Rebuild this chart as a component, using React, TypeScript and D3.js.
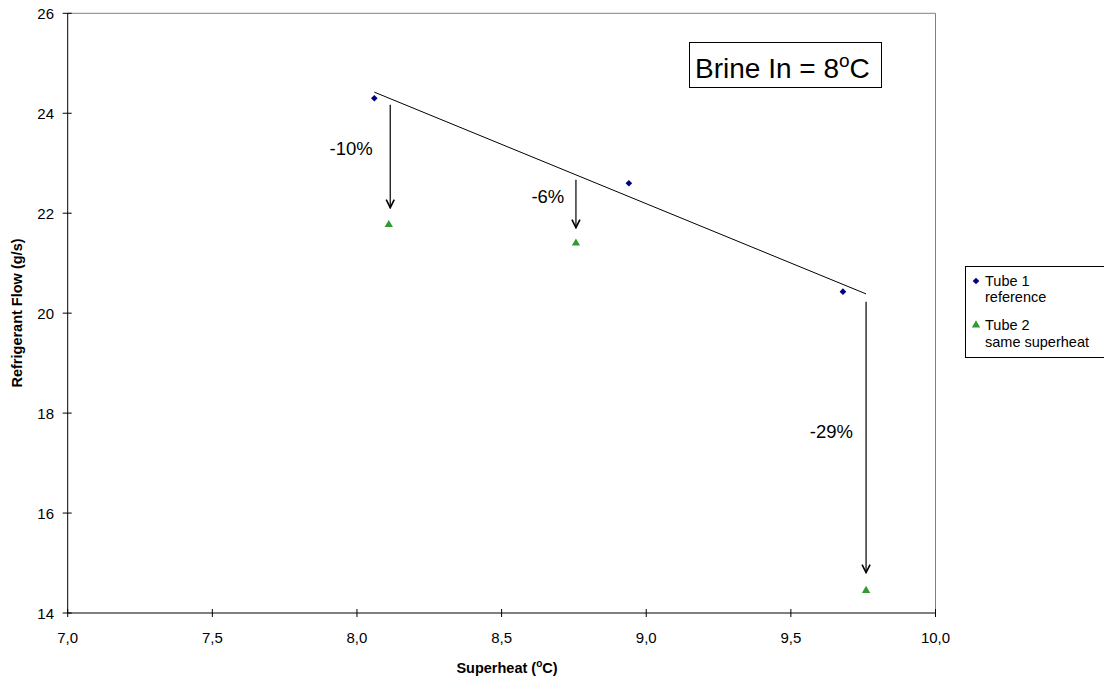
import React from "react";
import * as d3 from "d3";

const tube1X = [8.06, 8.94, 9.68];
const tube1Y = [24.3, 22.6, 20.43];
const tube2X = [8.11, 8.757, 9.76];
const tube2Y = [21.77, 21.4, 14.45];
const arrowX = [8.115, 8.757, 9.76];
const arrowTop = [24.17, 22.67, 20.23];
const arrowTip = [22.11, 21.71, 14.81];
const arrowLabels = ["-10%", "-6%", "-29%"];
const labelX = [7.98, 8.66, 9.64];
const labelY = [23.17, 22.2, 17.5];
const xTicks = [7, 7.5, 8, 8.5, 9, 9.5, 10];
const yTicks = [14, 16, 18, 20, 22, 24, 26];
const trendRange = [8.06, 9.76];

const W = 1104;
const H = 681;
const FONT = "'Liberation Sans', Arial, sans-serif";

export default function App() {
  const x = d3.scaleLinear().domain([7, 10]).range([67.7, 935.5]);
  const y = d3.scaleLinear().domain([14, 26]).range([613, 13.3]);

  // linear regression of tube 1
  const mx = d3.mean(tube1X)!;
  const my = d3.mean(tube1Y)!;
  let sxy = 0, sxx = 0;
  tube1X.forEach((v, i) => {
    sxy += (v - mx) * (tube1Y[i] - my);
    sxx += (v - mx) * (v - mx);
  });
  const slope = sxy / sxx;
  const fit = (v: number) => my + slope * (v - mx);
  const trendLine = d3.line<number>().x((d) => x(d)).y((d) => y(fit(d)));

  const diamond = d3.symbol().type(d3.symbolSquare).size(22)();
  const tri = d3.symbol().type(d3.symbolTriangle).size(30)();
  const fmt = (v: number) => v.toFixed(1).replace(".", ",");

  return (
    <svg width={W} height={H} style={{ position: "absolute", left: 0, top: 0, background: "#fff" }} fontFamily={FONT}>
      <defs>
        <marker id="ah" viewBox="0 0 10 10" refX="9" refY="5" markerWidth="10" markerHeight="10" markerUnits="userSpaceOnUse" orient="auto">
          <path d="M1,1 L9,5 L1,9" fill="none" stroke="#000" strokeWidth={1.6} />
        </marker>
      </defs>
      {/* plot frame */}
      <line x1={x(7)} x2={x(10)} y1={y(26)} y2={y(26)} stroke="#808080" />
      <line x1={x(10)} x2={x(10)} y1={y(26)} y2={y(14)} stroke="#808080" />
      <line x1={x(7)} x2={x(10)} y1={y(14)} y2={y(14)} stroke="#000" />
      <line x1={x(7)} x2={x(7)} y1={y(26)} y2={y(14)} stroke="#000" />
      {xTicks.map((t) => (
        <g key={"x" + t}>
          <line x1={x(t)} x2={x(t)} y1={y(14) - 4} y2={y(14) + 4} stroke="#000" />
          <text x={x(t)} y={643} textAnchor="middle" fontSize={15} fill="#000">{fmt(t)}</text>
        </g>
      ))}
      {yTicks.map((t) => (
        <g key={"y" + t}>
          <line x1={x(7) - 5} x2={x(7) + 4} y1={y(t)} y2={y(t)} stroke="#000" />
          <text x={54} y={y(t) + 5.5} textAnchor="end" fontSize={15} fill="#000">{t}</text>
        </g>
      ))}
      {/* axis titles */}
      <text x={507} y={673} textAnchor="middle" fontSize={14.5} fontWeight="bold">
        Superheat (<tspan fontSize={10} dy={-6}>o</tspan><tspan dy={6}>C)</tspan>
      </text>
      <text transform="translate(22,313) rotate(-90)" textAnchor="middle" fontSize={14.5} fontWeight="bold">
        Refrigerant Flow (g/s)
      </text>
      {/* trend line */}
      <path d={trendLine(trendRange) || ""} fill="none" stroke="#000" strokeWidth={1} />
      {/* arrows */}
      {arrowX.map((ax, i) => (
        <line key={"a" + i} x1={x(ax)} x2={x(ax)} y1={y(arrowTop[i])} y2={y(arrowTip[i])} stroke="#000" strokeWidth={1.2} markerEnd="url(#ah)" />
      ))}
      {arrowLabels.map((l, i) => (
        <text key={"l" + i} x={x(labelX[i])} y={y(labelY[i])} textAnchor="middle" fontSize={18.5}>{l}</text>
      ))}
      {/* points */}
      {tube1X.map((v, i) => (
        <path key={"p1" + i} d={diamond || ""} transform={`translate(${x(v)},${y(tube1Y[i])}) rotate(45)`} fill="#000080" />
      ))}
      {tube2X.map((v, i) => (
        <path key={"p2" + i} d={tri || ""} transform={`translate(${x(v)},${y(tube2Y[i])})`} fill="#339933" />
      ))}
      {/* title box */}
      <rect x={689.5} y={42.5} width={192} height={45} fill="#fff" stroke="#000" />
      <text x={695} y={78} fontSize={28}>
        Brine In = 8<tspan fontSize={19} dy={-11}>o</tspan><tspan dy={11}>C</tspan>
      </text>
      {/* legend */}
      <rect x={965.5} y={266.5} width={150} height={91} fill="#fff" stroke="#000" />
      <path d={diamond || ""} transform="translate(976,281) rotate(45)" fill="#000080" />
      <text x={985} y={286} fontSize={14.5}>Tube 1</text>
      <text x={985} y={302} fontSize={14.5}>reference</text>
      <path d={tri || ""} transform="translate(976,325)" fill="#339933" />
      <text x={985} y={330} fontSize={14.5}>Tube 2</text>
      <text x={985} y={347} fontSize={14.5}>same superheat</text>
    </svg>
  );
}
